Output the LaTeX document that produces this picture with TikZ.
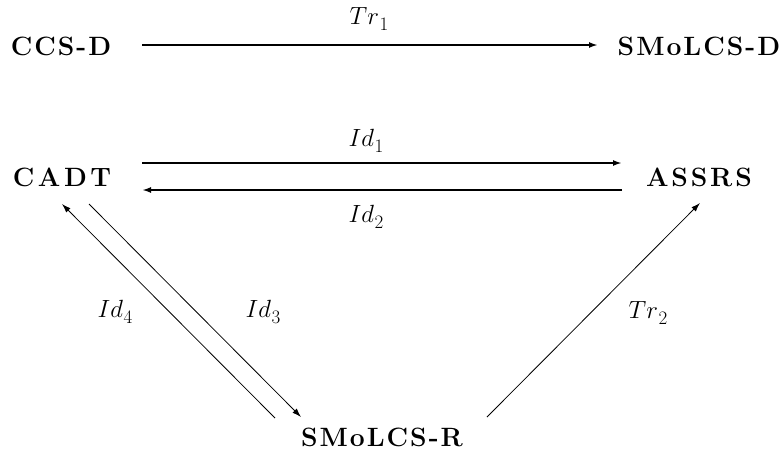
\documentclass[tikz,border=0pt]{standalone}
\usetikzlibrary{arrows.meta}
\makeatletter
\def\lsp#1#2{\def\lsp@gap{#1}\lsp@loop#2\relax\unkern}
\def\lsp@loop#1{\ifx#1\relax\else#1\kern\lsp@gap\expandafter\lsp@loop\fi}
\makeatother
\newcommand\mlab[2]{$#1$\kern0.5pt\raisebox{-6pt}{\fontsize{19}{19}\selectfont #2}}
\begin{document}
\begin{tikzpicture}[x=1pt,y=-1pt,
  lbl/.style={font=\fontsize{26.5}{31}\selectfont\bfseries, inner sep=0pt},
  mlbl/.style={font=\fontsize{27}{32}\selectfont, inner sep=0pt},
  thick arr/.style={line width=1.8pt, -{Latex[length=9pt,width=6pt]}},
  thin arr/.style={line width=0.8pt, -{Latex[length=9pt,width=6pt]}}]
\useasboundingbox (0,0) rectangle (782,464);
\node[lbl] (ccsd) at (61,46) {\lsp{2pt}{CCS-D}};
\node[lbl] (smolcsd) at (699,46) {\lsp{2pt}{SMoLCS-D}};
\node[lbl] (cadt) at (62,177) {\lsp{3.6pt}{CADT}};
\node[lbl] (assrs) at (699,177) {\lsp{2.8pt}{ASSRS}};
\node[lbl] (smolcsr) at (382,437) {\lsp{2pt}{SMoLCS-R}};
\coordinate (a1) at (142,45); \coordinate (a2) at (598,45);
\draw[thick arr] (a1) -- (a2);
\node[mlbl] (tr1) at (369,19) {\mlab{Tr}{1}};
\coordinate (b1) at (142,163); \coordinate (b2) at (622,163);
\draw[thick arr] (b1) -- (b2);
\node[mlbl] (id1) at (366,141) {\mlab{Id}{1}};
\coordinate (c1) at (622,190); \coordinate (c2) at (142,190);
\draw[thick arr] (c1) -- (c2);
\node[mlbl] (id2) at (366,217) {\mlab{Id}{2}};
\coordinate (d1) at (275,418); \coordinate (d2) at (62,204);
\draw[thin arr] (d1) -- (d2);
\node[mlbl] (id4) at (115,312) {\mlab{Id}{4}};
\coordinate (e1) at (89,204); \coordinate (e2) at (301,417);
\draw[thin arr] (e1) -- (e2);
\node[mlbl] (id3) at (263,312) {\mlab{Id}{3}};
\coordinate (f1) at (487,417); \coordinate (f2) at (700,203);
\draw[thin arr] (f1) -- (f2);
\node[mlbl] (tr2) at (648,313) {\mlab{Tr}{2}};
\end{tikzpicture}
\end{document}
